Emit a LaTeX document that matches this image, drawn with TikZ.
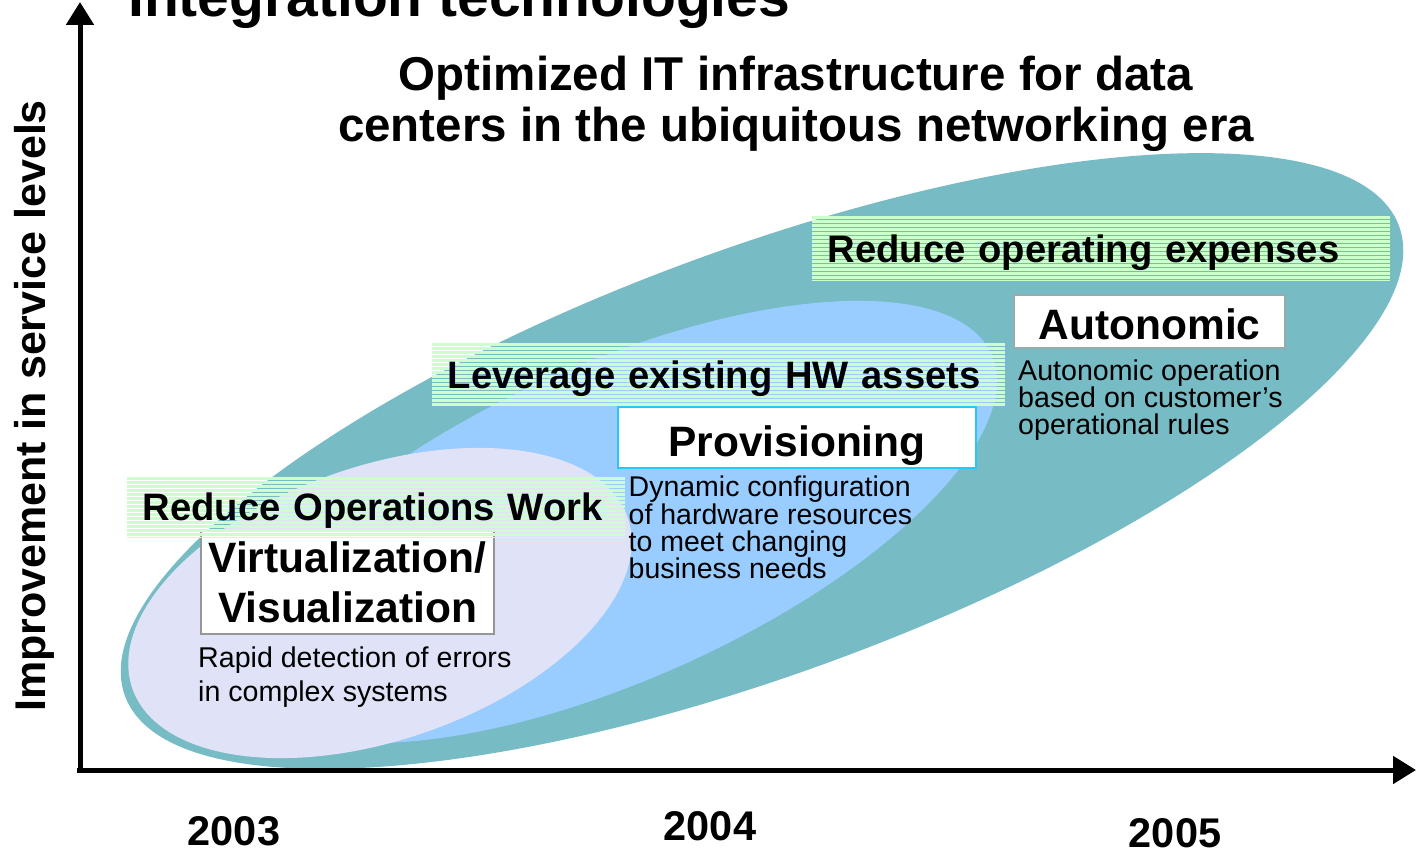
\documentclass[tikz,border=0pt]{standalone}
\usepackage{fontspec}
\setmainfont{Liberation Sans}
\usetikzlibrary{arrows.meta}
\definecolor{tealfill}{RGB}{119,187,197}
\definecolor{bluefill}{RGB}{153,204,255}
\definecolor{lavfill}{RGB}{224,227,247}
\definecolor{stripegreen}{RGB}{204,255,204}
\definecolor{autoborder}{RGB}{150,172,172}
\definecolor{provborder}{RGB}{40,200,245}
\definecolor{virtborder}{RGB}{150,150,150}
\newcommand{\fsz}[2]{\fontsize{#1pt}{#2pt}\selectfont\lineskiplimit=-100pt}
\begin{document}
\begin{tikzpicture}[x=1pt,y=-1pt,
  axis/.style={line width=5pt, -{Triangle[length=23pt,width=27pt]}},
  stripebox/.style={anchor=north west, inner xsep=15.5pt, inner ysep=0pt, align=left,
     font=\bfseries\fsz{38.2}{40},
     path picture={\foreach \k in {0,...,16}{\fill[stripegreen] ([yshift=-4pt*\k]path picture bounding box.north west) rectangle ([yshift=-4pt*\k-3pt]path picture bounding box.north east);}}},
  labelbox/.style={anchor=north west, fill=white, line width=2pt, inner sep=0pt, font=\bfseries\fsz{42.5}{50}},
  desc/.style={anchor=north west, inner sep=0pt, align=left, font=\fsz{28.5}{27.3}},
  year/.style={anchor=base, font=\bfseries\fsz{41.5}{45}},
]
\useasboundingbox (0,0) rectangle (1416,853);
\fill[white] (0,0) rectangle (1416,853);

% ellipses
\fill[tealfill, rotate around={20.25:(762,461)}] (762,461) ellipse [x radius=679pt, y radius=212pt];
\fill[bluefill, rotate around={24:(615,522)}] (615,522) ellipse [x radius=412pt, y radius=158pt];
\fill[lavfill, rotate around={19:(380,603)}] (380,603) ellipse [x radius=262pt, y radius=137pt];

% axes
\coordinate (O) at (80,772);
\coordinate (xstart) at (77,770);
\coordinate (ytip) at (80,2);
\coordinate (xtip) at (1416,770);
\draw[axis] (xstart) -- (xtip);
\draw[axis] (O) -- (ytip);

% titles
\node[anchor=base west, inner sep=0pt, font=\bfseries\fsz{57}{60}] (toptitle) at (128,17) {Integration technologies};
\node[anchor=north, inner sep=0pt, align=center, font=\bfseries\fsz{47.5}{51}] (title) at (796,56) {Optimized IT infrastructure for data\\centers in the ubiquitous networking era};
\node[anchor=base, rotate=90, inner sep=0pt, font=\bfseries\fsz{43}{45}] (ylabel) at (45,406) {Improvement in service levels};

% years
\node[year] (y2003) at (234,845) {2003};
\node[year] (y2004) at (710,840) {2004};
\node[year] (y2005) at (1175,847) {2005};

% boxes
\node[labelbox, draw=virtborder, minimum width=293pt, minimum height=103pt, align=center] (virt) at (200,530) {Virtualization/\\Visualization};
\node[stripebox, text width=467pt, text height=43pt, text depth=17pt] (row) at (127,477) {Reduce Operations Work};
\node[stripebox, text width=542pt, text height=45pt, text depth=17pt] (lev) at (432,343) {Leverage existing HW assets};
\node[stripebox, text width=547pt, text height=46pt, text depth=18pt] (roe) at (812,216) {Reduce operating expenses};
\node[labelbox, draw=autoborder, minimum width=271pt, text height=44pt, text depth=9pt] (auto) at (1013,294) {Autonomic};
\node[labelbox, draw=provborder, minimum width=358pt, text height=49pt, text depth=12pt] (prov) at (617,406) {Provisioning};

% descriptions
\node[desc, font=\fsz{28.6}{27}] (autodesc) at (1018,359.5) {Autonomic operation\\based on customer’s\\operational rules};
\node[desc] (provdesc) at (628.5,476) {Dynamic configuration\\of hardware resources\\to meet changing\\business needs};
\node[desc, font=\fsz{28.6}{34}] (virtdesc) at (198,647) {Rapid detection of errors\\in complex systems};
\end{tikzpicture}
\end{document}
